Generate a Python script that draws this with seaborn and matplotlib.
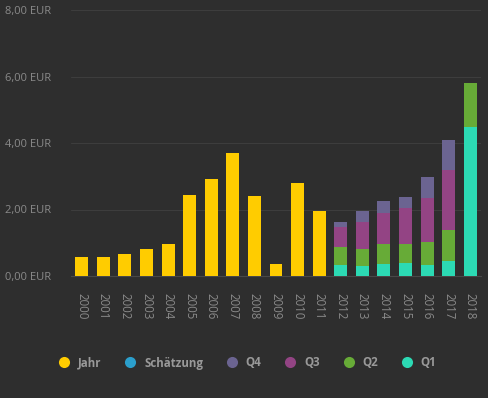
import matplotlib
matplotlib.use("Agg")
import matplotlib.pyplot as plt
from matplotlib.lines import Line2D
import seaborn as sns
import pandas as pd
import numpy as np

years = [str(y) for y in range(2000, 2019)]
jahr = [0.58, 0.58, 0.66, 0.82, 0.96, 2.44, 2.92, 3.70, 2.41, 0.36, 2.80, 1.95,
        0, 0, 0, 0, 0, 0, 0]
q1 = [0]*12 + [0.33, 0.30, 0.36, 0.39, 0.33, 0.45, 4.48]
q2 = [0]*12 + [0.54, 0.51, 0.60, 0.57, 0.69, 0.93, 1.32]
q3 = [0]*12 + [0.60, 0.81, 0.93, 1.08, 1.32, 1.81, 0.0]
q4 = [0]*12 + [0.15, 0.33, 0.36, 0.33, 0.63, 0.90, 0.0]
yticks = [0, 2, 4, 6, 8]
ytick_labels = ["0,00 EUR", "2,00 EUR", "4,00 EUR", "6,00 EUR", "8,00 EUR"]
legend_labels = ["Jahr", "Schätzung", "Q4", "Q3", "Q2", "Q1"]

BG = "#2e2e2e"
colors = {"Jahr": "#ffcc00", "Schätzung": "#2b9fcc", "Q4": "#6b6491",
          "Q3": "#934484", "Q2": "#67ab37", "Q1": "#2cdab4"}

df = pd.DataFrame({"year": years, "Jahr": jahr, "Q1": q1, "Q2": q2, "Q3": q3, "Q4": q4})
df["c1"] = df["Q1"]
df["c2"] = df["c1"] + df["Q2"]
df["c3"] = df["c2"] + df["Q3"]
df["c4"] = df["c3"] + df["Q4"]

sns.set_theme(style="dark")
plt.rcParams["font.family"] = ["Open Sans", "DejaVu Sans"]

fig = plt.figure(figsize=(4.89, 3.98), dpi=100, facecolor=BG)
ax = fig.add_axes([71/489, 1-276/398, 410/489, 266/398])
ax.set_facecolor(BG)

for col, key in [("c4", "Q4"), ("c3", "Q3"), ("c2", "Q2"), ("c1", "Q1"), ("Jahr", "Jahr")]:
    sns.barplot(data=df, x="year", y=col, order=years, color=colors[key],
                width=0.6, saturation=1, ax=ax, linewidth=0, zorder=3)

ax.set_ylim(0, 8)
ax.set_xlim(-0.5, len(years) - 0.5)
ax.set_yticks(yticks)
ax.set_yticklabels(ytick_labels, color="#8a8a8a", fontsize=8)
ax.set_xticks(range(len(years)))
ax.set_xticklabels(years, rotation=-90, color="#8a8a8a", fontsize=8.3)
ax.set_xticks(np.arange(-0.5, len(years), 1), minor=True)
ax.tick_params(axis="x", which="major", length=0, pad=12)
ax.tick_params(axis="x", which="minor", length=10, color="#484848", width=0.8)
ax.tick_params(axis="y", length=0, pad=14)
ax.set_xlabel("")
ax.set_ylabel("")
ax.grid(axis="y", color="#3d3d3d", linewidth=0.8, zorder=0)
ax.grid(axis="x", visible=False)
for s in ["top", "right", "left"]:
    ax.spines[s].set_visible(False)
ax.spines["bottom"].set_color("#484848")
ax.spines["bottom"].set_linewidth(0.8)
for lbl in ax.get_yticklabels():
    lbl.set_horizontalalignment("right")

handles = [Line2D([0], [0], marker="o", linestyle="", markersize=8,
                  markerfacecolor=colors[k], markeredgewidth=0) for k in legend_labels]
leg = fig.legend(handles, legend_labels, loc="center", bbox_to_anchor=(0.5, 1-363/398),
                 ncol=6, frameon=False, handletextpad=0.2, columnspacing=1.5,
                 handlelength=2.0, prop={"size": 8.3, "weight": "bold"})
for t in leg.get_texts():
    t.set_color("#999999")

fig.savefig("out.png", dpi=100, facecolor=BG)
